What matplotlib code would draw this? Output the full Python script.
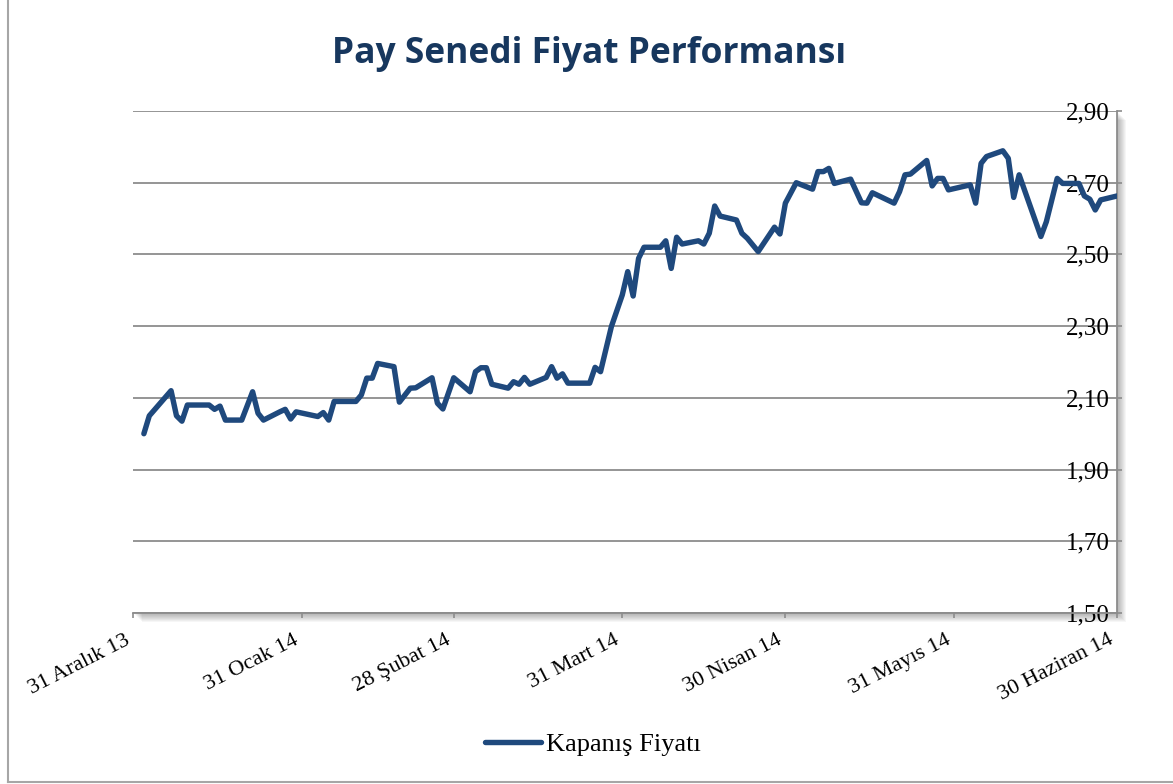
import matplotlib
matplotlib.use('Agg')
import matplotlib.pyplot as plt
import pandas as pd
from matplotlib.ticker import FuncFormatter, FixedLocator
from matplotlib.patches import Rectangle
from matplotlib.lines import Line2D

# ---------------- data ----------------
dates = [
    '2014-01-02', '2014-01-03', '2014-01-07', '2014-01-08', '2014-01-09', '2014-01-10',
    '2014-01-14', '2014-01-15', '2014-01-16', '2014-01-17', '2014-01-20', '2014-01-22',
    '2014-01-23', '2014-01-24', '2014-01-27', '2014-01-28', '2014-01-29', '2014-01-30',
    '2014-02-03', '2014-02-04', '2014-02-05', '2014-02-06', '2014-02-10', '2014-02-11',
    '2014-02-12', '2014-02-13', '2014-02-14', '2014-02-17', '2014-02-18', '2014-02-20',
    '2014-02-21', '2014-02-24', '2014-02-25', '2014-02-26', '2014-02-28',
    '2014-03-03', '2014-03-04', '2014-03-05', '2014-03-06', '2014-03-07', '2014-03-10',
    '2014-03-11', '2014-03-12', '2014-03-13', '2014-03-14', '2014-03-17', '2014-03-18',
    '2014-03-19', '2014-03-20', '2014-03-21', '2014-03-25', '2014-03-26', '2014-03-27',
    '2014-03-29', '2014-03-31',
    '2014-04-01', '2014-04-02', '2014-04-03', '2014-04-04', '2014-04-07', '2014-04-08',
    '2014-04-09', '2014-04-10', '2014-04-11', '2014-04-14', '2014-04-15', '2014-04-16',
    '2014-04-17', '2014-04-18', '2014-04-21', '2014-04-22', '2014-04-23', '2014-04-25',
    '2014-04-28', '2014-04-29', '2014-04-30',
    '2014-05-02', '2014-05-05', '2014-05-06', '2014-05-07', '2014-05-08', '2014-05-09',
    '2014-05-12', '2014-05-14', '2014-05-15', '2014-05-16', '2014-05-20', '2014-05-21',
    '2014-05-22', '2014-05-23', '2014-05-26', '2014-05-27', '2014-05-28', '2014-05-29',
    '2014-05-30',
    '2014-06-03', '2014-06-04', '2014-06-05', '2014-06-06', '2014-06-09', '2014-06-10',
    '2014-06-11', '2014-06-12', '2014-06-16', '2014-06-17', '2014-06-19', '2014-06-20',
    '2014-06-23', '2014-06-24', '2014-06-25', '2014-06-26', '2014-06-27', '2014-06-30',
]
prices = [
    2.00, 2.05, 2.12, 2.05, 2.035, 2.08,
    2.08, 2.068, 2.077, 2.038, 2.038, 2.117,
    2.057, 2.038, 2.061, 2.068, 2.041, 2.061,
    2.048, 2.059, 2.038, 2.09, 2.09, 2.108,
    2.155, 2.155, 2.196, 2.187, 2.088, 2.127,
    2.128, 2.156, 2.085, 2.069, 2.156,
    2.117, 2.173, 2.184, 2.184, 2.138, 2.127,
    2.145, 2.138, 2.157, 2.138, 2.157, 2.187,
    2.155, 2.167, 2.141, 2.141, 2.185, 2.173,
    2.299, 2.387,
    2.452, 2.384, 2.489, 2.520, 2.520, 2.538,
    2.461, 2.548, 2.529, 2.538, 2.529, 2.559,
    2.635, 2.607, 2.596, 2.559, 2.545, 2.508,
    2.576, 2.557, 2.643,
    2.700, 2.682, 2.731, 2.731, 2.740, 2.698,
    2.710, 2.644, 2.643, 2.672, 2.643, 2.675,
    2.722, 2.724, 2.762, 2.691, 2.712, 2.712,
    2.680,
    2.694, 2.643, 2.754, 2.773, 2.789, 2.768,
    2.659, 2.722, 2.550, 2.591, 2.712, 2.698,
    2.698, 2.663, 2.654, 2.624, 2.652, 2.663,
]
tick_dates = ['2013-12-31', '2014-01-31', '2014-02-28', '2014-03-31',
              '2014-04-30', '2014-05-31', '2014-06-30']
tick_labels = ['31 Aralık 13', '31 Ocak 14', '28 Şubat 14', '31 Mart 14',
               '30 Nisan 14', '31 Mayıs 14', '30 Haziran 14']
y_ticks = [1.50, 1.70, 1.90, 2.10, 2.30, 2.50, 2.70, 2.90]
series_name = 'Kapanış Fiyatı'
title = 'Pay Senedi Fiyat Performansı'

# ---------------- figure ----------------
W, H = 1173, 784
fig = plt.figure(figsize=(W / 100, H / 100), dpi=100)
fig.patch.set_facecolor('white')

x0, x1, ytop, ybot = 133, 1117, 111, 613
ax = fig.add_axes([x0 / W, 1 - ybot / H, (x1 - x0) / W, (ybot - ytop) / H])
ax.set_facecolor('white')

# drop shadow of plot area
for d in range(1, 10):
    fig.patches.append(Rectangle(((x0 + d) / W, 1 - (ybot + d) / H),
                                 (x1 - x0) / W, (ybot - ytop) / H,
                                 transform=fig.transFigure, facecolor='black',
                                 edgecolor='none', alpha=0.035, zorder=-5))

xd = pd.to_datetime(dates)
td = pd.to_datetime(tick_dates)
line_color = '#1F497D'
ax.plot(xd, prices, color=line_color, lw=3.9, solid_joinstyle='round',
        solid_capstyle='round', label=series_name, zorder=3)

ax.set_xlim(td[0], td[-1])
ax.set_ylim(y_ticks[0], y_ticks[-1])

serif = ['Liberation Serif', 'DejaVu Serif']
grid_c = '#8c8c8c'

ax.yaxis.tick_right()
ax.yaxis.set_major_locator(FixedLocator(y_ticks))
ax.yaxis.set_major_formatter(FuncFormatter(lambda v, p: f'{v:.2f}'.replace('.', ',')))
ax.tick_params(axis='y', direction='out', length=3.8, width=1.2, color=grid_c,
               pad=-8.8, labelsize=18, labelcolor='black')
for lbl in ax.get_yticklabels():
    lbl.set_horizontalalignment('right')
    lbl.set_family(serif)
ax.grid(axis='y', color=grid_c, lw=1.3)
ax.set_axisbelow(True)

ax.set_xticks(td)
ax.set_xticklabels(tick_labels, rotation=27, ha='right', family=serif, fontsize=16)
ax.tick_params(axis='x', direction='out', length=3.8, width=1.2, color=grid_c, pad=9)

for s in ['top', 'left']:
    ax.spines[s].set_visible(False)
for s in ['bottom', 'right']:
    ax.spines[s].set_color(grid_c)
    ax.spines[s].set_linewidth(1.3)

fig.text(0.502, 1 - 54 / H, title, ha='center', va='center', fontsize=25.5,
         fontweight='bold', color='#17375E', family=['Open Sans', 'DejaVu Sans'])

leg = fig.legend(loc='center', bbox_to_anchor=(593 / W, 1 - 744 / H), frameon=False,
                 prop={'family': serif, 'size': 19}, handlelength=2.1,
                 handletextpad=0.2)

# chart area border
fig.lines.append(Line2D([8 / W, 8 / W], [1 - 782 / H, 1], transform=fig.transFigure,
                        color='#a6a6a6', lw=1.5))
fig.lines.append(Line2D([8 / W, 1], [1 - 782 / H, 1 - 782 / H], transform=fig.transFigure,
                        color='#a6a6a6', lw=1.5))

fig.savefig('out.png', dpi=100)
